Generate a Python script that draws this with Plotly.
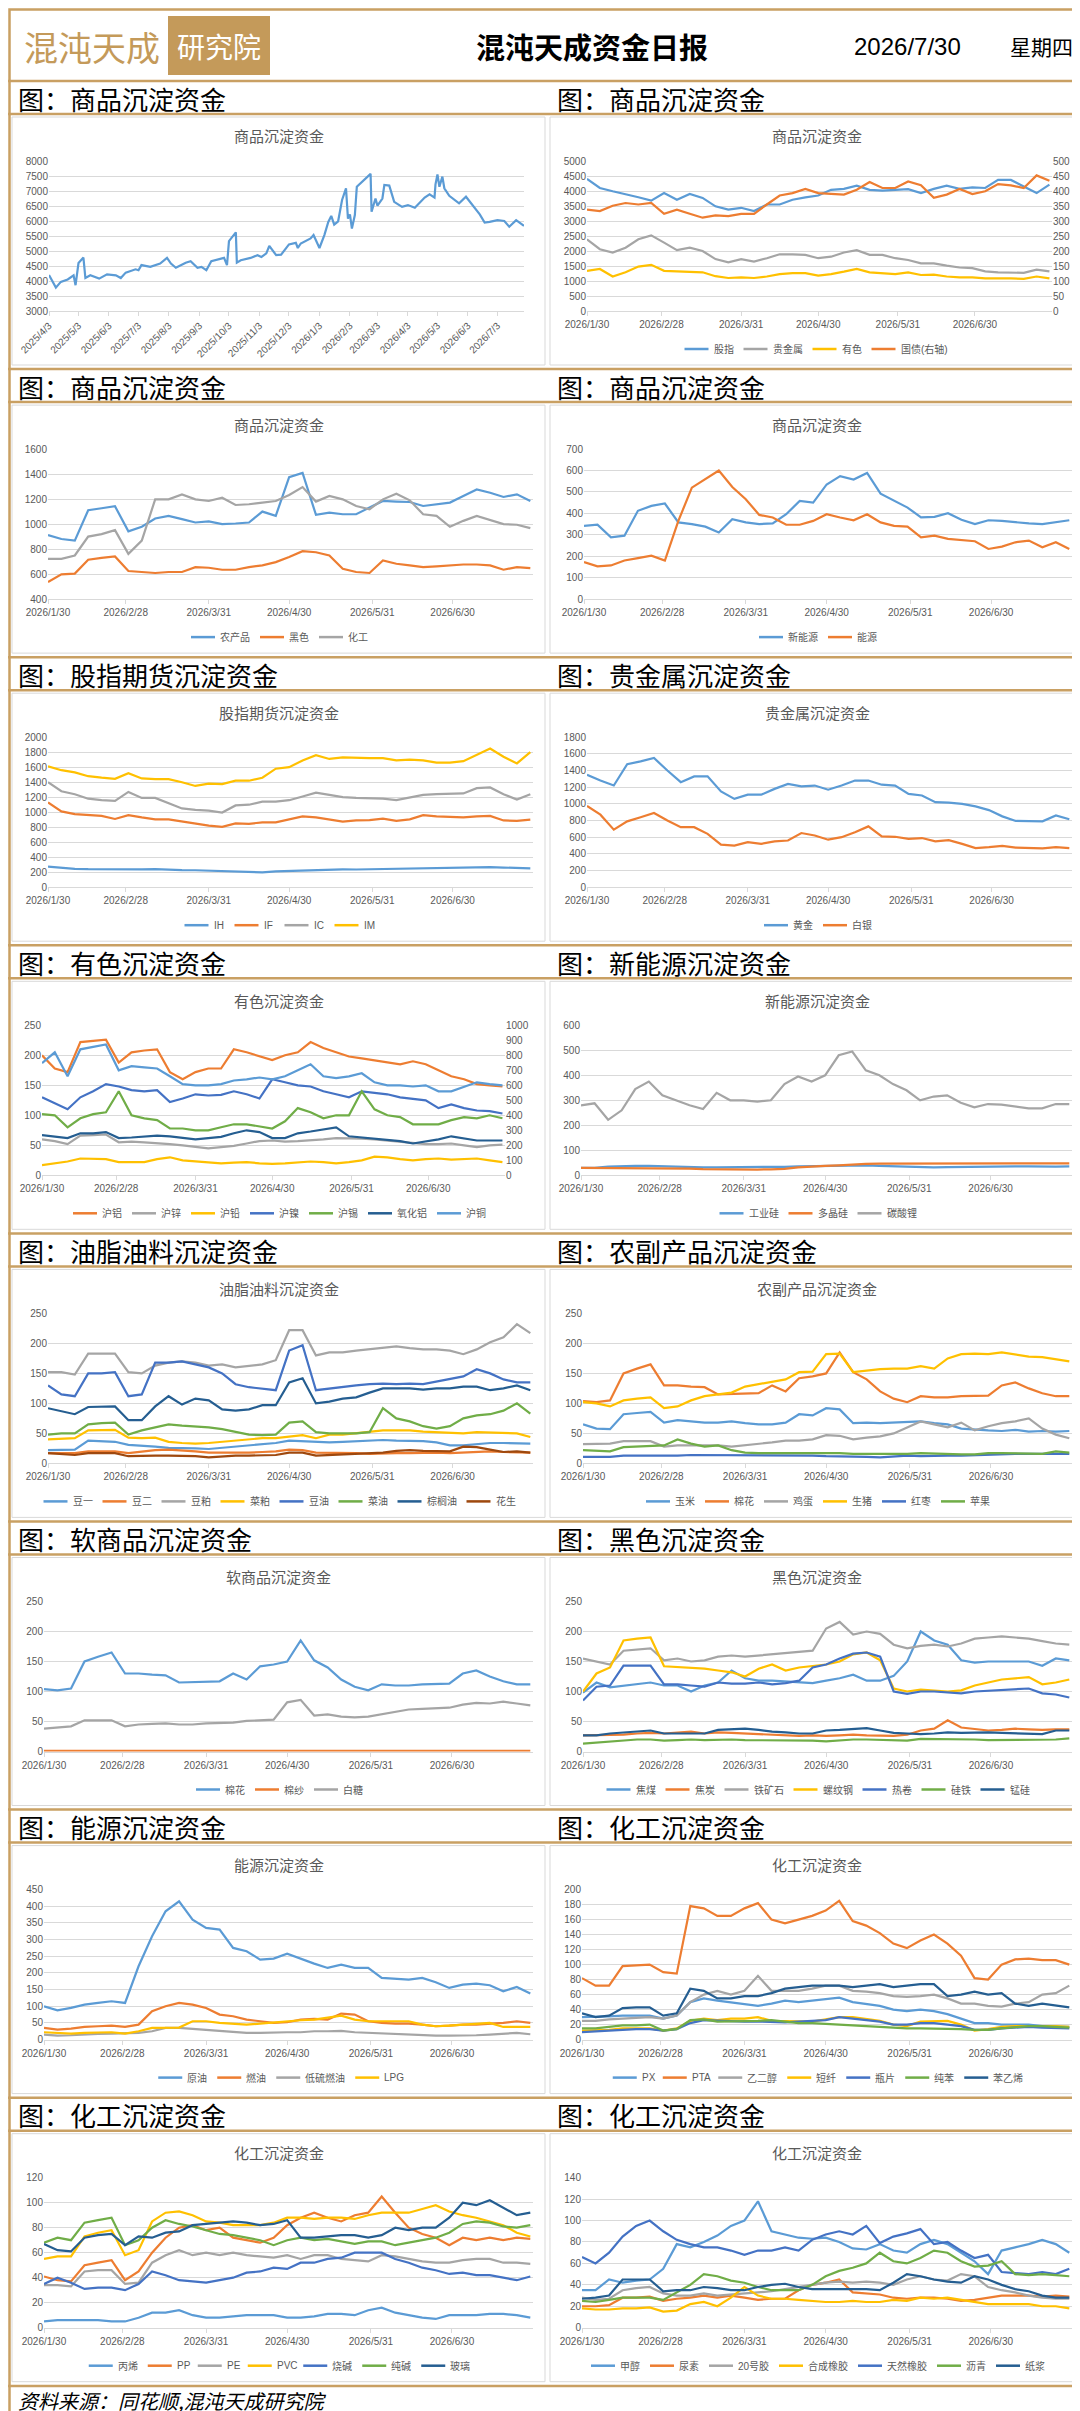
import plotly.graph_objects as go

W, H = 1080, 2411
GOLD = '#C9A063'
GRID = '#D9D9D9'
TXT = '#595959'
BLUE, ORANGE, GRAY, YELLOW = '#5B9BD5', '#ED7D31', '#A5A5A5', '#FFC000'
DBLUE, GREEN, NAVY, BROWN = '#4472C4', '#70AD47', '#255E91', '#9E480E'
FONT = 'Liberation Sans Narrow, Liberation Sans, Noto Sans CJK SC, sans-serif'
CJK = 'Noto Sans CJK SC, sans-serif'

# ---------------- 数据 ----------------
DATES = ['2026-01-30', '2026-02-04', '2026-02-09', '2026-02-14', '2026-02-19', '2026-02-24',
         '2026-03-01', '2026-03-06', '2026-03-11', '2026-03-16', '2026-03-21', '2026-03-26',
         '2026-03-31', '2026-04-05', '2026-04-10', '2026-04-15', '2026-04-20', '2026-04-25',
         '2026-04-30', '2026-05-05', '2026-05-10', '2026-05-15', '2026-05-20', '2026-05-25',
         '2026-05-30', '2026-06-04', '2026-06-09', '2026-06-14', '2026-06-19', '2026-06-24',
         '2026-06-29', '2026-07-04', '2026-07-09', '2026-07-14', '2026-07-19', '2026-07-24',
         '2026-07-29']
TICK_DATES = ['2026-01-30', '2026-02-28', '2026-03-31', '2026-04-30', '2026-05-31', '2026-06-30']
TICK_TEXT = ['2026/1/30', '2026/2/28', '2026/3/31', '2026/4/30', '2026/5/31', '2026/6/30']

# 商品沉淀资金（总）
LONG_DATES = ['2025-04-03', '2025-04-10', '2025-04-15', '2025-04-22', '2025-04-28', '2025-04-30',
              '2025-05-03', '2025-05-08', '2025-05-10', '2025-05-15', '2025-05-24', '2025-06-01',
              '2025-06-10', '2025-06-15', '2025-06-20', '2025-06-30', '2025-07-03', '2025-07-06',
              '2025-07-15', '2025-07-25', '2025-08-01', '2025-08-05', '2025-08-10', '2025-08-20',
              '2025-08-25', '2025-09-01', '2025-09-05', '2025-09-10', '2025-09-15', '2025-09-22',
              '2025-09-25', '2025-09-28', '2025-10-01', '2025-10-03', '2025-10-10', '2025-10-11',
              '2025-10-15', '2025-10-25', '2025-11-01', '2025-11-05', '2025-11-10', '2025-11-13',
              '2025-11-20', '2025-11-25', '2025-12-03', '2025-12-10', '2025-12-12', '2025-12-15',
              '2025-12-25', '2025-12-28', '2026-01-03', '2026-01-08', '2026-01-12', '2026-01-15',
              '2026-01-18', '2026-01-22', '2026-01-26', '2026-01-28', '2026-01-30', '2026-02-01',
              '2026-02-03', '2026-02-05', '2026-02-08', '2026-02-10', '2026-02-24', '2026-02-25',
              '2026-03-01', '2026-03-03', '2026-03-08', '2026-03-10', '2026-03-15', '2026-03-20',
              '2026-03-28', '2026-04-03', '2026-04-10', '2026-04-20', '2026-04-25', '2026-04-30',
              '2026-05-01', '2026-05-03', '2026-05-05', '2026-05-08', '2026-05-10', '2026-05-15',
              '2026-05-25', '2026-06-01', '2026-06-08', '2026-06-15', '2026-06-20', '2026-06-25',
              '2026-07-03', '2026-07-10', '2026-07-15', '2026-07-22', '2026-07-30']
LONG_VALUES = [4200, 3780, 3970, 4050, 4190, 3860, 4600, 4780, 4100, 4190, 4080, 4220, 4190, 4100,
               4280, 4390, 4360, 4530, 4470, 4580, 4770, 4580, 4440, 4610, 4660, 4440, 4470, 4360,
               4660, 4710, 4750, 4770, 4530, 5330, 5620, 4610, 4690, 4770, 4860, 4800, 4920, 5170,
               4860, 4880, 5220, 5270, 5100, 5250, 5420, 5530, 5100, 5530, 5970, 6170, 5880, 5990,
               6700, 6920, 7090, 6080, 6220, 5750, 6200, 7140, 7570, 6310, 6750, 6510, 6750, 7200,
               7180, 6640, 6470, 6530, 6440, 6780, 6890, 6780, 7220, 7550, 7140, 7480, 7090, 6840,
               6590, 6810, 6530, 6220, 5950, 5970, 6030, 6000, 5810, 6030, 5840]
LONG_TICKS = ['2025-04-03', '2025-05-03', '2025-06-03', '2025-07-03', '2025-08-03', '2025-09-03',
              '2025-10-03', '2025-11-03', '2025-12-03', '2026-01-03', '2026-02-03', '2026-03-03',
              '2026-04-03', '2026-05-03', '2026-06-03', '2026-07-03']
LONG_TICK_TEXT = ['2025/4/3', '2025/5/3', '2025/6/3', '2025/7/3', '2025/8/3', '2025/9/3',
                  '2025/10/3', '2025/11/3', '2025/12/3', '2026/1/3', '2026/2/3', '2026/3/3',
                  '2026/4/3', '2026/5/3', '2026/6/3', '2026/7/3']

# 板块
GUZHI = [4405, 4100, 3990, 3900, 3790, 3680, 3930, 3710, 3900, 3770, 3490, 3380, 3440, 3330, 3550, 3550,
         3710, 3790, 3850, 4040, 4070, 4180, 4040, 4010, 4040, 4060, 3930, 4070, 4180, 4070, 4120, 4100,
         4370, 4370, 4150, 3930, 4210]
GUIJINSHU = [2390, 2060, 1950, 2110, 2390, 2520, 2280, 2030, 2110, 2000, 1730, 1620, 1730, 1650, 1760,
             1890, 1890, 1870, 1760, 1810, 1950, 2030, 1870, 1870, 1760, 1700, 1590, 1590, 1510, 1450,
             1430, 1320, 1290, 1290, 1270, 1380, 1320]
YOUSE = [1340, 1400, 1150, 1290, 1480, 1540, 1340, 1320, 1320, 1290, 1160, 1100, 1120, 1100, 1150, 1230,
         1260, 1260, 1180, 1230, 1310, 1400, 1290, 1260, 1230, 1290, 1200, 1210, 1150, 1120, 1120, 1090,
         1100, 1090, 1070, 1150, 1090]
GUOZHAI = [338, 333, 351, 360, 355, 360, 324, 338, 324, 311, 319, 316, 324, 324, 355, 385, 393, 407, 393,
           390, 388, 404, 430, 410, 410, 432, 419, 377, 388, 407, 390, 399, 423, 419, 410, 452, 434]
NONGCHANPIN = [913, 881, 868, 1111, 1127, 1143, 942, 979, 1045, 1066, 1040, 1013, 1021, 1000, 1005, 1013,
               1100, 1066, 1375, 1410, 1074, 1092, 1079, 1079, 1132, 1185, 1180, 1177, 1145, 1159, 1172,
               1225, 1277, 1251, 1217, 1238, 1185]
HEISE = [537, 598, 604, 715, 730, 741, 625, 617, 609, 617, 617, 656, 651, 635, 635, 656, 670, 696, 736, 783,
         775, 749, 643, 617, 609, 709, 683, 670, 656, 662, 670, 677, 677, 670, 635, 656, 648]
HUAGONG = [722, 722, 749, 900, 920, 952, 762, 868, 1198, 1198, 1238, 1198, 1185, 1211, 1153, 1159, 1172,
           1185, 1233, 1296, 1180, 1225, 1198, 1145, 1119, 1198, 1243, 1190, 1079, 1066, 979, 1026, 1066,
           1032, 1000, 995, 968]
XINNENGYUAN = [342, 347, 288, 296, 412, 435, 446, 358, 350, 338, 311, 373, 358, 350, 353, 396, 458, 450,
               535, 574, 558, 589, 492, 458, 427, 381, 384, 401, 370, 350, 368, 365, 358, 353, 350, 358, 368]
NENGYUAN = [173, 153, 157, 180, 191, 203, 180, 365, 520, 558, 600, 523, 466, 393, 381, 347, 347, 365, 396,
            381, 368, 396, 358, 342, 338, 288, 296, 281, 276, 270, 234, 245, 265, 273, 242, 265, 234]

# 股指期货
IH = [274, 255, 245, 240, 238, 236, 232, 238, 240, 230, 228, 226, 220, 210, 205, 200, 198, 210, 215, 225,
      232, 235, 238, 236, 240, 242, 250, 252, 258, 262, 265, 270, 272, 268, 262, 255, 250]
IF = [1130, 1010, 975, 960, 950, 910, 960, 930, 905, 905, 880, 850, 820, 805, 850, 845, 865, 865, 900, 945,
      930, 900, 875, 890, 895, 915, 885, 905, 960, 945, 935, 930, 945, 950, 890, 885, 900]
IC = [1400, 1280, 1240, 1180, 1160, 1150, 1270, 1190, 1190, 1120, 1050, 1030, 1020, 995, 1090, 1100, 1140,
      1140, 1160, 1210, 1260, 1230, 1200, 1190, 1190, 1180, 1160, 1190, 1230, 1240, 1240, 1250, 1320, 1330,
      1240, 1170, 1240]
IM = [1611, 1560, 1530, 1480, 1460, 1445, 1520, 1450, 1440, 1440, 1400, 1350, 1380, 1375, 1420, 1420, 1460,
      1580, 1600, 1690, 1760, 1710, 1730, 1720, 1720, 1720, 1690, 1700, 1690, 1660, 1660, 1680, 1760, 1850,
      1740, 1650, 1800]

# 贵金属
GOLD_FUND = [1350, 1280, 1220, 1475, 1510, 1550, 1400, 1260, 1330, 1330, 1150, 1060, 1110, 1110, 1180,
             1240, 1210, 1220, 1170, 1220, 1280, 1280, 1230, 1220, 1120, 1100, 1020, 1015, 1000, 970, 925,
             850, 795, 790, 790, 860, 815]
SILVER = [975, 870, 690, 790, 840, 890, 800, 720, 720, 640, 510, 500, 540, 520, 550, 560, 650, 620, 570,
          600, 660, 730, 610, 605, 580, 590, 550, 565, 520, 470, 480, 495, 475, 470, 465, 480, 470]

# 有色
HU_LV = [200, 178, 172, 222, 224, 226, 188, 205, 208, 210, 172, 160, 172, 178, 178, 210, 205, 198, 192, 200,
         205, 222, 212, 205, 198, 195, 192, 188, 185, 190, 185, 175, 165, 160, 152, 150, 148]
HU_XIN = [60, 57, 52, 66, 67, 68, 55, 56, 55, 54, 52, 50, 47, 45, 47, 49, 53, 57, 58, 56, 57, 58, 60, 62,
          62, 61, 60, 58, 55, 54, 52, 52, 53, 50, 47, 50, 51]
HU_QIAN = [17, 20, 23, 28, 28, 27, 22, 22, 22, 27, 30, 25, 23, 21, 20, 21, 22, 20, 19, 20, 21, 23, 22, 20,
           22, 25, 31, 30, 27, 25, 27, 28, 26, 27, 28, 25, 22]
HU_NIE = [130, 120, 110, 130, 140, 152, 148, 142, 140, 142, 122, 128, 135, 133, 134, 140, 135, 128, 160, 155,
          150, 148, 140, 135, 130, 140, 138, 135, 130, 128, 125, 112, 118, 112, 108, 107, 103]
HU_XI = [102, 100, 80, 95, 102, 105, 140, 100, 95, 92, 78, 78, 75, 75, 80, 85, 85, 82, 78, 90, 112, 105, 95,
         100, 100, 140, 110, 100, 97, 85, 85, 85, 92, 97, 95, 100, 95]
YANGHUALV = [67, 65, 62, 70, 70, 72, 62, 63, 65, 66, 65, 62, 60, 62, 64, 70, 75, 72, 62, 62, 70, 73, 77, 80,
             65, 63, 60, 58, 57, 53, 56, 60, 65, 62, 58, 58, 58]
HU_TONG = [748, 820, 660, 840, 856, 872, 700, 728, 720, 712, 660, 608, 600, 600, 608, 632, 640, 652, 640, 660,
           700, 740, 660, 648, 660, 680, 620, 600, 600, 592, 600, 560, 560, 592, 620, 608, 600]

# 新能源
GONGYEGUI = [30, 30, 35, 38, 38, 38, 36, 34, 32, 32, 32, 32, 32, 32, 33, 34, 36, 37, 38, 40, 42, 40, 38, 36,
             35, 33, 32, 33, 34, 34, 35, 35, 36, 36, 34, 35, 36]
DUOJINGGUI = [30, 30, 29, 29, 29, 29, 29, 28, 27, 25, 24, 24, 23, 23, 24, 26, 32, 36, 38, 40, 44, 46, 47, 47,
              47, 47, 47, 46, 46, 46, 46, 46, 45, 45, 45, 46, 48]
TANSUANLI = [280, 288, 222, 260, 345, 375, 320, 300, 280, 265, 330, 300, 300, 295, 300, 365, 395, 375, 400,
             480, 495, 420, 400, 365, 340, 300, 315, 320, 290, 272, 285, 283, 275, 268, 268, 285, 285]

# 油脂油料
DOUYI = [22, 23, 23, 38, 37, 36, 31, 30, 28, 26, 26, 25, 24, 26, 28, 30, 32, 34, 38, 37, 35, 35, 36, 37, 38,
         39, 38, 38, 37, 35, 30, 30, 32, 34, 34, 33, 33]
DOUER = [17, 17, 17, 20, 20, 20, 17, 20, 22, 23, 22, 20, 18, 18, 17, 18, 19, 20, 23, 22, 18, 18, 17, 17, 16,
         17, 17, 17, 18, 18, 17, 18, 20, 20, 19, 19, 18]
DOUPO = [152, 152, 148, 183, 183, 183, 152, 150, 163, 168, 170, 168, 163, 165, 160, 163, 165, 172, 222, 222,
         180, 185, 185, 188, 190, 192, 195, 192, 190, 190, 188, 182, 190, 202, 210, 232, 217]
CAIPO = [40, 41, 42, 55, 56, 56, 43, 42, 43, 36, 34, 33, 34, 36, 38, 40, 42, 42, 45, 47, 42, 48, 48, 50, 52,
         55, 55, 55, 53, 52, 50, 50, 52, 51, 50, 50, 44]
DOUYOU = [130, 115, 112, 150, 150, 152, 112, 115, 168, 168, 170, 165, 160, 150, 132, 127, 125, 122, 188, 197,
          122, 125, 128, 130, 132, 133, 132, 133, 132, 136, 140, 145, 157, 150, 140, 135, 135]
CAIYOU = [48, 50, 50, 65, 67, 68, 48, 55, 60, 65, 63, 62, 60, 57, 52, 48, 47, 48, 68, 70, 52, 50, 50, 50, 52,
          92, 75, 70, 62, 58, 62, 75, 80, 82, 88, 100, 83]
ZONGLVYOU = [92, 87, 82, 94, 95, 95, 72, 72, 95, 112, 98, 108, 105, 90, 88, 90, 97, 97, 135, 142, 100, 103,
             108, 110, 118, 125, 125, 125, 123, 125, 125, 128, 128, 122, 125, 130, 122]
HUASHENG = [17, 15, 14, 17, 17, 17, 12, 13, 13, 13, 13, 12, 10, 12, 13, 13, 14, 14, 18, 18, 13, 14, 15, 16,
            16, 18, 21, 22, 21, 20, 20, 28, 27, 23, 19, 20, 18]

# 农副产品 / 软商品
YUMI = [65, 58, 57, 82, 84, 86, 68, 72, 70, 68, 68, 70, 67, 65, 65, 68, 82, 80, 92, 90, 67, 68, 67, 68, 70,
        70, 67, 65, 58, 56, 55, 54, 56, 53, 54, 53, 54]
MIANHUA = [104, 102, 105, 150, 158, 165, 130, 130, 128, 127, 115, 116, 117, 117, 130, 120, 142, 145, 150, 185,
           152, 140, 120, 108, 102, 112, 110, 110, 112, 112, 113, 130, 135, 125, 117, 112, 112]
JIDAN = [32, 33, 33, 37, 37, 37, 28, 30, 30, 30, 30, 28, 30, 33, 35, 38, 38, 40, 47, 46, 40, 43, 45, 50, 60,
         70, 65, 60, 68, 55, 62, 67, 70, 75, 58, 48, 42]
SHENGZHU = [102, 100, 95, 105, 108, 110, 92, 95, 105, 112, 115, 118, 128, 132, 135, 140, 152, 153, 182, 183,
            152, 155, 157, 158, 158, 162, 158, 175, 182, 183, 182, 185, 182, 178, 177, 174, 170]
HONGZAO = [11, 11, 11, 13, 13, 13, 12, 13, 14, 14, 13, 13, 13, 13, 13, 13, 13, 13, 12, 12, 11, 11, 10, 11,
           13, 12, 13, 13, 13, 14, 15, 16, 16, 16, 16, 16, 16]
PINGGUO = [22, 21, 20, 27, 28, 28, 30, 40, 33, 28, 30, 22, 18, 17, 17, 17, 18, 17, 17, 17, 16, 16, 15, 16,
           16, 17, 16, 15, 15, 15, 17, 17, 17, 16, 16, 20, 18]
MIANSHA = [1, 1, 1, 1, 2, 2, 1, 2, 2, 2, 1, 1, 1, 1, 1, 1, 1, 1, 2, 2, 2, 2, 1, 1, 1, 1, 1, 1, 1, 1, 1, 1,
           1, 2, 1, 1, 1]
BAITANG = [38, 40, 42, 52, 52, 52, 42, 45, 46, 47, 45, 45, 47, 48, 48, 51, 52, 53, 82, 86, 60, 62, 58, 57,
           58, 62, 67, 70, 71, 72, 73, 78, 81, 80, 83, 80, 77]

# 黑色
JIAOMEI = [98, 115, 107, 110, 113, 115, 110, 110, 100, 110, 115, 135, 122, 118, 118, 117, 115, 114, 118, 122,
           128, 118, 118, 126, 150, 200, 185, 178, 152, 148, 150, 150, 150, 150, 143, 155, 152]
JIAOTAN = [27, 27, 28, 28, 30, 31, 30, 32, 33, 30, 32, 31, 30, 28, 27, 27, 26, 27, 26, 27, 28, 27, 27, 26,
           28, 35, 38, 52, 40, 38, 35, 36, 38, 37, 36, 37, 37]
TIEKUANGSHI = [155, 150, 145, 168, 170, 172, 152, 155, 150, 152, 158, 160, 158, 160, 162, 163, 165, 168, 205,
               216, 195, 200, 196, 178, 172, 176, 178, 175, 180, 188, 190, 192, 190, 188, 184, 180, 178]
LUOWENGANG = [100, 130, 140, 185, 188, 190, 142, 141, 140, 138, 135, 132, 125, 138, 145, 135, 140, 142, 145,
              150, 162, 165, 152, 105, 100, 103, 102, 100, 102, 110, 115, 120, 122, 124, 112, 115, 120]
REJUAN = [85, 108, 110, 143, 143, 143, 112, 112, 110, 108, 115, 113, 113, 115, 112, 114, 118, 140, 145, 155,
          163, 165, 158, 100, 96, 100, 100, 98, 97, 100, 101, 103, 104, 105, 97, 95, 90]
GUITIE = [13, 15, 17, 19, 20, 20, 18, 19, 20, 19, 20, 20, 19, 19, 19, 19, 18, 18, 17, 19, 20, 20, 19, 19,
          18, 21, 21, 21, 21, 20, 19, 19, 19, 19, 19, 20, 22]
MENGGUI = [27, 27, 30, 32, 34, 35, 30, 30, 30, 30, 36, 37, 38, 36, 33, 32, 30, 30, 35, 36, 38, 39, 35, 31,
           30, 29, 30, 32, 31, 32, 32, 31, 30, 30, 29, 35, 35]

# 能源
YUANYOU = [100, 88, 95, 105, 110, 115, 110, 220, 310, 385, 415, 360, 335, 330, 275, 265, 240, 243, 258, 242,
           228, 215, 225, 215, 215, 185, 182, 180, 185, 172, 155, 165, 168, 163, 145, 158, 138]
RANYOU = [35, 30, 33, 38, 40, 42, 38, 45, 85, 100, 110, 105, 95, 75, 70, 60, 55, 50, 52, 60, 62, 60, 78, 75,
          55, 50, 48, 48, 45, 40, 42, 45, 45, 47, 50, 55, 50]
DILIURANYOU = [15, 12, 13, 16, 17, 18, 20, 20, 25, 35, 35, 32, 28, 24, 22, 20, 20, 22, 22, 22, 25, 25, 26,
               22, 20, 18, 18, 15, 13, 12, 12, 12, 13, 15, 18, 20, 16]
LPG = [22, 20, 18, 20, 20, 22, 18, 25, 35, 35, 36, 55, 55, 50, 48, 45, 48, 52, 55, 58, 60, 65, 72, 60, 55,
       55, 55, 55, 45, 40, 42, 45, 48, 50, 38, 38, 38]

# 化工（聚酯）
PX = [30, 30, 31, 32, 32, 32, 28, 32, 50, 55, 52, 50, 48, 45, 48, 52, 50, 52, 55, 56, 50, 47, 45, 40, 38, 40,
      38, 34, 28, 22, 22, 20, 20, 20, 18, 18, 17]
PTA = [82, 72, 72, 98, 99, 100, 90, 88, 178, 175, 165, 165, 175, 182, 160, 155, 160, 165, 172, 185, 158, 152,
       142, 128, 122, 132, 140, 128, 112, 82, 80, 100, 107, 108, 106, 106, 100]
YIERCHUN = [25, 25, 27, 28, 30, 30, 28, 32, 50, 60, 65, 60, 65, 85, 65, 65, 65, 68, 72, 72, 65, 64, 62, 58,
            57, 58, 60, 55, 48, 48, 45, 44, 48, 50, 60, 62, 72]
DUANXIAN = [12, 12, 13, 15, 15, 15, 12, 15, 25, 28, 26, 28, 28, 30, 25, 25, 25, 24, 27, 30, 30, 28, 25, 20,
            18, 24, 25, 25, 20, 12, 14, 17, 18, 18, 19, 18, 17]
PINGPIAN = [10, 11, 12, 14, 14, 14, 12, 14, 22, 26, 25, 25, 24, 24, 23, 23, 24, 25, 26, 30, 28, 26, 24, 20,
            20, 22, 22, 20, 18, 13, 13, 15, 16, 17, 16, 16, 15]
CHUNBEN = [15, 15, 17, 19, 19, 20, 12, 14, 26, 27, 24, 24, 24, 25, 26, 24, 22, 22, 21, 20, 18, 17, 16, 15,
           15, 15, 15, 15, 14, 13, 13, 15, 17, 18, 18, 17, 16]
BENYIXI = [35, 30, 32, 42, 43, 43, 32, 35, 68, 65, 55, 55, 58, 58, 62, 68, 70, 72, 72, 72, 70, 72, 74, 70,
           72, 74, 74, 58, 60, 64, 60, 62, 48, 45, 48, 45, 43]

# 化工（塑料/两碱）
BINGXI = [5, 6, 6, 6, 6, 5, 5, 8, 12, 12, 14, 10, 8, 8, 9, 10, 10, 10, 8, 8, 9, 11, 11, 10, 14, 16, 12, 10,
          8, 7, 10, 10, 10, 11, 11, 10, 8]
PP = [41, 38, 37, 50, 52, 54, 38, 45, 60, 72, 80, 82, 78, 80, 72, 70, 68, 72, 82, 88, 92, 88, 85, 90, 92,
      105, 92, 80, 75, 72, 66, 72, 70, 72, 70, 72, 71]
PE = [34, 34, 33, 45, 46, 46, 35, 36, 52, 58, 62, 58, 60, 58, 60, 58, 57, 56, 58, 55, 58, 58, 55, 54, 53,
      58, 57, 55, 53, 52, 52, 54, 55, 55, 52, 52, 51]
PVC = [55, 57, 57, 73, 76, 78, 58, 62, 85, 92, 93, 90, 85, 84, 82, 82, 82, 84, 88, 88, 87, 88, 88, 87, 90,
       92, 92, 92, 95, 98, 93, 90, 88, 85, 82, 76, 73]
SHAOJIAN = [35, 40, 36, 31, 32, 32, 30, 35, 45, 42, 38, 37, 36, 38, 40, 44, 45, 48, 47, 52, 52, 55, 56, 60,
            60, 60, 55, 52, 48, 46, 43, 44, 42, 42, 40, 38, 41]
CHUNJIAN = [68, 72, 70, 84, 86, 88, 66, 70, 80, 86, 83, 81, 78, 75, 74, 72, 70, 66, 70, 72, 70, 71, 69, 67,
            69, 69, 66, 68, 70, 72, 76, 83, 85, 84, 81, 80, 82]
BOLI = [67, 62, 61, 72, 74, 75, 66, 73, 72, 76, 77, 82, 83, 84, 85, 84, 82, 83, 86, 72, 72, 73, 74, 74, 72,
        74, 80, 78, 80, 80, 88, 100, 98, 102, 96, 90, 92]

# 化工（其他）
JIACHUN = [35, 35, 45, 42, 44, 45, 55, 78, 75, 80, 86, 95, 100, 118, 90, 87, 84, 83, 84, 80, 74, 73, 78, 72,
           70, 78, 82, 78, 70, 62, 50, 72, 75, 78, 82, 78, 70]
NIAOSU = [20, 20, 21, 28, 28, 29, 25, 27, 28, 30, 28, 30, 28, 26, 27, 27, 35, 40, 42, 45, 33, 32, 31, 28,
          27, 28, 28, 27, 25, 26, 28, 30, 30, 30, 29, 30, 29]
JIAO20 = [28, 26, 27, 35, 37, 38, 32, 30, 30, 32, 30, 31, 32, 33, 34, 36, 38, 40, 42, 43, 42, 43, 42, 40,
          45, 48, 45, 44, 50, 48, 38, 35, 33, 30, 28, 27, 27]
HECHENGXIANGJIAO = [18, 17, 17, 18, 18, 19, 15, 16, 22, 24, 20, 28, 38, 30, 27, 27, 26, 25, 24, 24, 25, 24,
                    24, 26, 25, 28, 27, 28, 26, 24, 22, 22, 22, 22, 20, 20, 18]
TIANRANXIANGJIAO = [66, 60, 70, 85, 95, 100, 90, 82, 78, 75, 75, 72, 68, 72, 72, 75, 72, 82, 87, 90, 87, 95,
                    79, 85, 88, 92, 78, 80, 72, 65, 68, 52, 51, 50, 52, 50, 55]
LIQING = [25, 24, 26, 28, 28, 28, 26, 33, 40, 50, 48, 44, 42, 38, 35, 35, 35, 40, 48, 53, 56, 60, 70, 62,
          60, 65, 72, 70, 62, 57, 58, 62, 50, 49, 50, 49, 48]
ZHIJIANG = [27, 28, 30, 45, 45, 45, 34, 35, 35, 38, 37, 35, 35, 38, 40, 41, 38, 36, 36, 36, 36, 36, 35, 42,
            50, 48, 45, 43, 42, 48, 45, 40, 36, 34, 30, 28, 28]

SECTION_TITLES = [('图：商品沉淀资金', '图：商品沉淀资金'),
                  ('图：商品沉淀资金', '图：商品沉淀资金'),
                  ('图：股指期货沉淀资金', '图：贵金属沉淀资金'),
                  ('图：有色沉淀资金', '图：新能源沉淀资金'),
                  ('图：油脂油料沉淀资金', '图：农副产品沉淀资金'),
                  ('图：软商品沉淀资金', '图：黑色沉淀资金'),
                  ('图：能源沉淀资金', '图：化工沉淀资金'),
                  ('图：化工沉淀资金', '图：化工沉淀资金')]

PANELS = [
    dict(title='商品沉淀资金', row=0, col=0, plot=(41, 516), yr=(3000, 8000), dt=500, long=True,
         series=[('商品沉淀资金', LONG_VALUES, BLUE)]),
    dict(title='商品沉淀资金', row=0, col=1, plot=(579, 1044), yr=(0, 5000), dt=500,
         series=[('股指', GUZHI, BLUE), ('贵金属', GUIJINSHU, GRAY), ('有色', YOUSE, YELLOW)],
         right=dict(yr=(0, 500), dt=50, series=[('国债(右轴)', GUOZHAI, ORANGE)])),
    dict(title='商品沉淀资金', row=1, col=0, plot=(40, 525), yr=(400, 1600), dt=200,
         series=[('农产品', NONGCHANPIN, BLUE), ('黑色', HEISE, ORANGE), ('化工', HUAGONG, GRAY)]),
    dict(title='商品沉淀资金', row=1, col=1, plot=(576, 1064), yr=(0, 700), dt=100,
         series=[('新能源', XINNENGYUAN, BLUE), ('能源', NENGYUAN, ORANGE)]),
    dict(title='股指期货沉淀资金', row=2, col=0, plot=(40, 525), yr=(0, 2000), dt=200,
         series=[('IH', IH, BLUE), ('IF', IF, ORANGE), ('IC', IC, GRAY), ('IM', IM, YELLOW)]),
    dict(title='贵金属沉淀资金', row=2, col=1, plot=(579, 1064), yr=(0, 1800), dt=200,
         series=[('黄金', GOLD_FUND, BLUE), ('白银', SILVER, ORANGE)]),
    dict(title='有色沉淀资金', row=3, col=0, plot=(34, 497), yr=(0, 250), dt=50,
         series=[('沪铝', HU_LV, ORANGE), ('沪锌', HU_XIN, GRAY), ('沪铅', HU_QIAN, YELLOW),
                 ('沪镍', HU_NIE, DBLUE), ('沪锡', HU_XI, GREEN), ('氧化铝', YANGHUALV, NAVY)],
         right=dict(yr=(0, 1000), dt=100, series=[('沪铜', HU_TONG, BLUE)])),
    dict(title='新能源沉淀资金', row=3, col=1, plot=(573, 1064), yr=(0, 600), dt=100,
         series=[('工业硅', GONGYEGUI, BLUE), ('多晶硅', DUOJINGGUI, ORANGE), ('碳酸锂', TANSUANLI, GRAY)]),
    dict(title='油脂油料沉淀资金', row=4, col=0, plot=(40, 525), yr=(0, 250), dt=50,
         series=[('豆一', DOUYI, BLUE), ('豆二', DOUER, ORANGE), ('豆粕', DOUPO, GRAY), ('菜粕', CAIPO, YELLOW),
                 ('豆油', DOUYOU, DBLUE), ('菜油', CAIYOU, GREEN), ('棕榈油', ZONGLVYOU, NAVY),
                 ('花生', HUASHENG, BROWN)]),
    dict(title='农副产品沉淀资金', row=4, col=1, plot=(575, 1064), yr=(0, 250), dt=50,
         series=[('玉米', YUMI, BLUE), ('棉花', MIANHUA, ORANGE), ('鸡蛋', JIDAN, GRAY), ('生猪', SHENGZHU, YELLOW),
                 ('红枣', HONGZAO, DBLUE), ('苹果', PINGGUO, GREEN)]),
    dict(title='软商品沉淀资金', row=5, col=0, plot=(36, 525), yr=(0, 250), dt=50,
         series=[('棉花', MIANHUA, BLUE), ('棉纱', MIANSHA, ORANGE), ('白糖', BAITANG, GRAY)]),
    dict(title='黑色沉淀资金', row=5, col=1, plot=(575, 1064), yr=(0, 250), dt=50,
         series=[('焦煤', JIAOMEI, BLUE), ('焦炭', JIAOTAN, ORANGE), ('铁矿石', TIEKUANGSHI, GRAY),
                 ('螺纹钢', LUOWENGANG, YELLOW), ('热卷', REJUAN, DBLUE), ('硅铁', GUITIE, GREEN),
                 ('锰硅', MENGGUI, NAVY)]),
    dict(title='能源沉淀资金', row=6, col=0, plot=(36, 525), yr=(0, 450), dt=50,
         series=[('原油', YUANYOU, BLUE), ('燃油', RANYOU, ORANGE), ('低硫燃油', DILIURANYOU, GRAY),
                 ('LPG', LPG, YELLOW)]),
    dict(title='化工沉淀资金', row=6, col=1, plot=(574, 1064), yr=(0, 200), dt=20,
         series=[('PX', PX, BLUE), ('PTA', PTA, ORANGE), ('乙二醇', YIERCHUN, GRAY), ('短纤', DUANXIAN, YELLOW),
                 ('瓶片', PINGPIAN, DBLUE), ('纯苯', CHUNBEN, GREEN), ('苯乙烯', BENYIXI, NAVY)]),
    dict(title='化工沉淀资金', row=7, col=0, plot=(36, 525), yr=(0, 120), dt=20,
         series=[('丙烯', BINGXI, BLUE), ('PP', PP, ORANGE), ('PE', PE, GRAY), ('PVC', PVC, YELLOW),
                 ('烧碱', SHAOJIAN, DBLUE), ('纯碱', CHUNJIAN, GREEN), ('玻璃', BOLI, NAVY)]),
    dict(title='化工沉淀资金', row=7, col=1, plot=(574, 1064), yr=(0, 140), dt=20,
         series=[('甲醇', JIACHUN, BLUE), ('尿素', NIAOSU, ORANGE), ('20号胶', JIAO20, GRAY),
                 ('合成橡胶', HECHENGXIANGJIAO, YELLOW), ('天然橡胶', TIANRANXIANGJIAO, DBLUE),
                 ('沥青', LIQING, GREEN), ('纸浆', ZHIJIANG, NAVY)]),
]


def fx(x):
    return x / W


def fy(y):
    return 1 - y / H


def row_top(r):
    return 73 + 288.1 * r


def text_width(s, size=10):
    # 粗略估计文字像素宽度，用于排布图例
    return sum(size * 1.0 if ord(c) > 255 else size * 0.55 for c in s)


def note(x, y, text, size, color, family=CJK, xanchor='center'):
    return dict(x=fx(x), y=fy(y), xref='paper', yref='paper', xanchor=xanchor, yanchor='middle',
                text=text, showarrow=False, font=dict(size=size, color=color, family=family))


fig = go.Figure()
layout = {}
shapes = []
annotations = []
extra = 17

for i, p in enumerate(PANELS, start=1):
    top = row_top(p['row'])
    bx0, bx1 = (4, 537) if p['col'] == 0 else (542, 1076)
    xname = 'x' if i == 1 else f'x{i}'
    yname = 'y' if i == 1 else f'y{i}'
    xkey = 'xaxis' if i == 1 else f'xaxis{i}'
    ykey = 'yaxis' if i == 1 else f'yaxis{i}'

    # 图表区边框
    shapes.append(dict(type='rect', xref='paper', yref='paper', x0=fx(bx0), x1=fx(bx1),
                       y0=fy(top + 284), y1=fy(top + 36), line=dict(color=GRID, width=1),
                       fillcolor='white', layer='below'))

    if p.get('long'):
        xs, xr, tv, tt, ang = LONG_DATES, ['2025-04-03', '2026-07-30'], LONG_TICKS, LONG_TICK_TEXT, -45
    else:
        xs, xr, tv, tt, ang = DATES, ['2026-01-30', '2026-07-30'], TICK_DATES, TICK_TEXT, 0

    layout[xkey] = dict(domain=[fx(p['plot'][0]), fx(p['plot'][1])], anchor=yname, type='date',
                        range=xr, tickmode='array', tickvals=tv, ticktext=tt, tickangle=ang,
                        showgrid=False, showline=True, linecolor=GRID, linewidth=1,
                        ticks='outside', ticklen=4, tickcolor=GRID, zeroline=False, automargin=False,
                        tickfont=dict(size=10, color=TXT, family=FONT))
    layout[ykey] = dict(domain=[fy(top + 230), fy(top + 80)], anchor=xname,
                        range=list(p['yr']), tick0=p['yr'][0], dtick=p['dt'],
                        showgrid=True, gridcolor=GRID, gridwidth=1, zeroline=False, automargin=False,
                        showline=False, ticks='', tickfont=dict(size=10, color=TXT, family=FONT))

    for name, vals, color in p['series']:
        fig.add_trace(go.Scatter(x=xs, y=vals, mode='lines', name=name,
                                 line=dict(color=color, width=2.2),
                                 xaxis=xname, yaxis=yname, showlegend=False))

    legend_items = [(n, c) for n, _, c in p['series']]
    if 'right' in p:
        rp = p['right']
        rname = f'y{extra}'
        layout[f'yaxis{extra}'] = dict(overlaying=yname, side='right', anchor=xname,
                                       range=list(rp['yr']), tick0=0, dtick=rp['dt'],
                                       showgrid=False, zeroline=False, showline=False, ticks='',
                                       automargin=False,
                                       tickfont=dict(size=10, color=TXT, family=FONT))
        for name, vals, color in rp['series']:
            fig.add_trace(go.Scatter(x=xs, y=vals, mode='lines', name=name,
                                     line=dict(color=color, width=2.2),
                                     xaxis=xname, yaxis=rname, showlegend=False))
            legend_items.append((name, color))
        extra += 1

    annotations.append(note((bx0 + bx1) / 2, top + 55, p['title'], 15, TXT))

    # 图例（线段 + 文字，仿 Excel 紧凑排布）
    if not p.get('long'):
        seg, gap1, gap2 = 24, 3, 12
        widths = [seg + gap1 + text_width(n) for n, _ in legend_items]
        total = sum(widths) + gap2 * (len(widths) - 1)
        cx = (bx0 + bx1) / 2 - total / 2
        ly = top + 268
        for (n, c), w in zip(legend_items, widths):
            shapes.append(dict(type='line', xref='paper', yref='paper', x0=fx(cx), x1=fx(cx + seg),
                               y0=fy(ly), y1=fy(ly), line=dict(color=c, width=2.5)))
            annotations.append(note(cx + seg + gap1, ly, n, 10, TXT, FONT, 'left'))
            cx += w + gap2

# 标题栏与金色分隔线
for r, (lt, rt) in enumerate(SECTION_TITLES):
    top = row_top(r)
    for yy in (top, top + 33):
        shapes.append(dict(type='line', xref='paper', yref='paper', x0=0, x1=1,
                           y0=fy(yy), y1=fy(yy), line=dict(color=GOLD, width=2.5)))
    annotations.append(note(8, top + 17, lt, 26, 'black', CJK, 'left'))
    annotations.append(note(547, top + 17, rt, 26, 'black', CJK, 'left'))

# 外框与页脚
shapes.append(dict(type='rect', xref='paper', yref='paper', x0=fx(1.5), x1=fx(1078.5),
                   y0=fy(2409.5), y1=fy(1.5), line=dict(color=GOLD, width=2.5)))
shapes.append(dict(type='line', xref='paper', yref='paper', x0=0, x1=1,
                   y0=fy(2378), y1=fy(2378), line=dict(color=GOLD, width=2.5)))
annotations.append(note(8, 2392, '<i>资料来源：同花顺,混沌天成研究院</i>', 20, 'black', CJK, 'left'))

# 页眉
shapes.append(dict(type='rect', xref='paper', yref='paper', x0=fx(160), x1=fx(262),
                   y0=fy(67), y1=fy(8), line=dict(width=0), fillcolor='#C49A5A', layer='below'))
annotations += [
    note(84, 38, '混沌天成', 34, '#C49A5A'),
    note(211, 38, '研究院', 28, 'white'),
    note(584, 38, '<b>混沌天成资金日报</b>', 29, 'black'),
    note(899, 38, '2026/7/30', 24, 'black', 'Liberation Sans Narrow, Liberation Sans'),
    note(1033, 38, '星期四', 21, 'black'),
]

fig.update_layout(template='none', width=W, height=H, margin=dict(l=0, r=0, t=0, b=0),
                  paper_bgcolor='white', plot_bgcolor='white', showlegend=False,
                  font=dict(family=FONT, color=TXT), shapes=shapes, annotations=annotations,
                  **layout)

fig.write_html("out.html")
